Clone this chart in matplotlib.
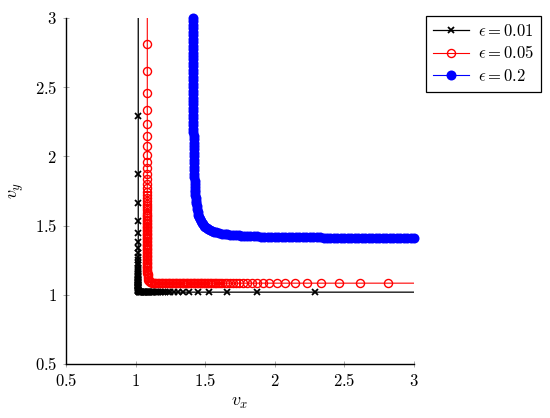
import matplotlib
matplotlib.use('Agg')
import matplotlib.pyplot as plt

plt.rcParams['mathtext.fontset'] = 'cm'
plt.rcParams['font.family'] = 'serif'
plt.rcParams['font.serif'] = ['DejaVu Serif']

# each curve is symmetric about vx = vy: one arm is listed (from the top down
# to the corner), the other arm is the same points with vx and vy swapped
arm_001_vy = [3.57, 2.29, 1.87, 1.66, 1.53, 1.445, 1.385, 1.34, 1.305, 1.275,
              1.25, 1.23, 1.212, 1.197, 1.184, 1.172, 1.162, 1.152, 1.143, 1.135,
              1.128, 1.121, 1.115, 1.109, 1.104, 1.099, 1.094, 1.09, 1.086, 1.082,
              1.078, 1.074, 1.07, 1.066, 1.062, 1.058, 1.054, 1.05, 1.046, 1.042,
              1.038, 1.034, 1.03, 1.027, 1.024]
arm_001_vx = [1.019] * 42 + [1.02, 1.02, 1.021]

arm_005_vy = [3.06, 2.81, 2.615, 2.46, 2.335, 2.232, 2.147, 2.075, 2.013, 1.96,
              1.913, 1.872, 1.836, 1.803, 1.773, 1.746, 1.721, 1.699, 1.678, 1.659,
              1.641, 1.624, 1.609, 1.594, 1.58, 1.567, 1.555, 1.543, 1.532, 1.521,
              1.511, 1.50, 1.49, 1.48, 1.47, 1.46, 1.45, 1.44, 1.43, 1.42,
              1.41, 1.40, 1.39, 1.38, 1.37, 1.36, 1.35, 1.34, 1.33, 1.32,
              1.31, 1.30, 1.29, 1.28, 1.27, 1.26, 1.25, 1.24, 1.23, 1.22,
              1.21, 1.20, 1.19, 1.18, 1.17, 1.16, 1.15, 1.14, 1.13, 1.12,
              1.11, 1.10]
arm_005_vx = [1.084] * 65 + [1.085, 1.086, 1.086, 1.087, 1.088, 1.09, 1.093]

arm_02_vy = [3.0, 2.975, 2.95, 2.925, 2.9, 2.875, 2.85, 2.825, 2.8, 2.775,
             2.75, 2.725, 2.7, 2.675, 2.65, 2.625, 2.6, 2.575, 2.55, 2.525,
             2.5, 2.475, 2.45, 2.425, 2.4, 2.375, 2.35, 2.325, 2.3, 2.275,
             2.25, 2.225, 2.2, 2.175, 2.15, 2.125, 2.1, 2.075, 2.05, 2.025,
             2.0, 1.975, 1.95, 1.925, 1.9, 1.875, 1.85, 1.825, 1.8, 1.78,
             1.76, 1.74, 1.72, 1.7, 1.68, 1.66, 1.64, 1.62, 1.6, 1.58,
             1.565, 1.55, 1.535, 1.52, 1.51, 1.5]
arm_02_vx = [1.41, 1.41, 1.41, 1.41, 1.41, 1.41, 1.411, 1.411, 1.411, 1.411,
             1.411, 1.411, 1.411, 1.411, 1.411, 1.412, 1.412, 1.412, 1.412, 1.412,
             1.412, 1.413, 1.413, 1.413, 1.413, 1.413, 1.413, 1.414, 1.414, 1.414,
             1.414, 1.415, 1.415, 1.415, 1.416, 1.416, 1.417, 1.417, 1.417, 1.418,
             1.418, 1.419, 1.42, 1.42, 1.421, 1.422, 1.423, 1.424, 1.425, 1.427,
             1.428, 1.429, 1.43, 1.432, 1.434, 1.436, 1.439, 1.442, 1.446, 1.451,
             1.455, 1.46, 1.467, 1.475, 1.481, 1.489]

labels = [r'$\epsilon = 0.01$', r'$\epsilon = 0.05$', r'$\epsilon = 0.2$']
x_ticks = [0.5, 1, 1.5, 2, 2.5, 3]
y_ticks = [0.5, 1, 1.5, 2, 2.5, 3]


def full_curve(arm_vx, arm_vy):
    vx = list(arm_vx) + list(arm_vy[::-1])
    vy = list(arm_vy) + list(arm_vx[::-1])
    return vx, vy


fig = plt.figure(figsize=(5.5, 4.18), dpi=100)
ax = fig.add_axes([0.12, 0.1292, 0.6327, 0.8278])

vx, vy = full_curve(arm_001_vx, arm_001_vy)
ax.plot(vx, vy, color='black', lw=0.9, marker='x', ms=3.8, mew=1.3, label=labels[0])

vx, vy = full_curve(arm_005_vx, arm_005_vy)
ax.plot(vx, vy, color='red', lw=0.8, marker='o', ms=5.8, mew=1.0,
        mfc='none', mec='red', label=labels[1])

vx, vy = full_curve(arm_02_vx, arm_02_vy)
ax.plot(vx, vy, color='blue', lw=0.8, marker='o', ms=7.2, mew=0,
        mfc='blue', label=labels[2], clip_on=False)

ax.set_xlim(0.5, 3)
ax.set_ylim(0.5, 3)
ax.set_xticks(x_ticks, labels=[f'${t:g}$' for t in x_ticks])
ax.set_yticks(y_ticks, labels=[f'${t:g}$' for t in y_ticks])
ax.tick_params(direction='inout', length=5, width=0.6, color='#9a9a9a',
               labelsize=12, pad=4)
for side in ['top', 'right']:
    ax.spines[side].set_visible(False)
for side in ['left', 'bottom']:
    ax.spines[side].set_linewidth(1.0)

ax.set_xlabel(r'$v_x$', fontsize=13, labelpad=2)
ax.set_ylabel(r'$v_y$', fontsize=13, labelpad=6)

leg = ax.legend(loc='upper left', bbox_to_anchor=(1.0345, 1.0058), borderaxespad=0,
                fontsize=12, frameon=True, fancybox=False, framealpha=1,
                edgecolor='black', handlelength=2.2, labelspacing=0.35,
                handletextpad=0.5, borderpad=0.4)
leg.get_frame().set_linewidth(0.9)

fig.savefig('out.png', dpi=100)
